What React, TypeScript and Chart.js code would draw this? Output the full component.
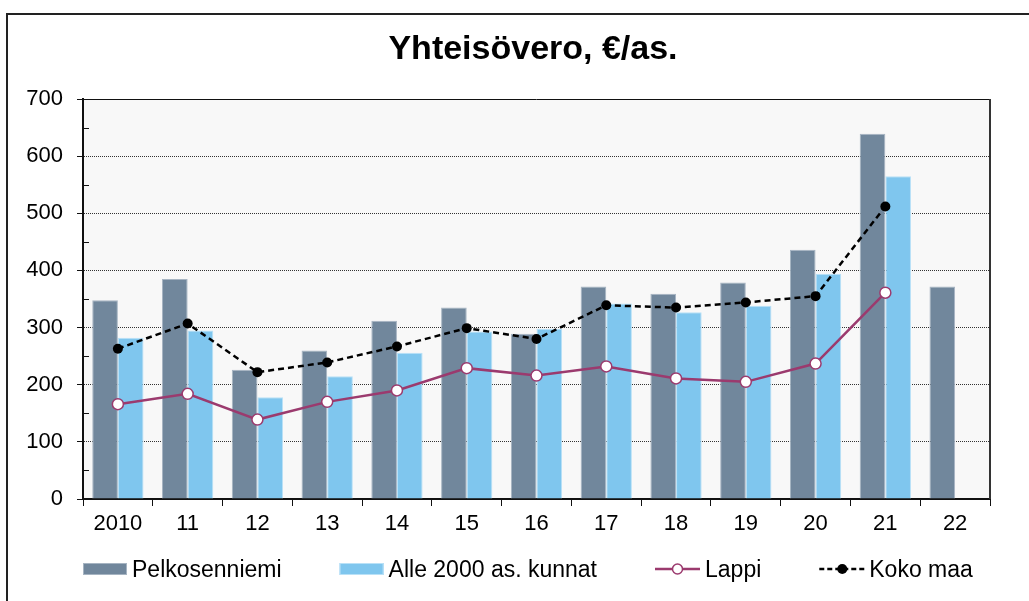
import React, { useEffect, useRef } from "react";
import { Chart, registerables } from "chart.js";

Chart.register(...registerables);

const title = "Yhteisövero, €/as.";
const categories = ["2010", "11", "12", "13", "14", "15", "16", "17", "18", "19", "20", "21", "22"];
const pelkosenniemi = [348, 385, 226, 260, 312, 335, 289, 372, 359, 379, 436, 639, 372];
const alle2000 = [282, 295, 178, 215, 256, 293, 298, 342, 327, 338, 394, 565, null];
const lappi = [166, 184, 139, 170, 190, 229, 216, 232, 211, 205, 237, 361, null];
const kokoMaa = [263, 307, 222, 239, 267, 299, 280, 339, 335, 344, 355, 512, null];
const seriesLabels = ["Pelkosenniemi", "Alle 2000 as. kunnat", "Lappi", "Koko maa"];
const yMin = 0;
const yMax = 700;
const yStep = 100;
const yMinorStep = 50;

const FONT = '"Liberation Sans", Arial, sans-serif';
const C_PELK = "#71879c";
const C_ALLE = "#7fc6ee";
const C_LAPPI = "#9b3a6e";
const C_KOKO = "#000000";

const bgPlugin = {
  id: "plotBg",
  beforeDraw(chart: any) {
    const { ctx, chartArea: a } = chart;
    ctx.save();
    ctx.fillStyle = "#f8f8f8";
    ctx.fillRect(a.left, a.top, a.right - a.left, a.bottom - a.top);
    ctx.restore();
  },
};

const framePlugin = {
  id: "frame",
  afterDraw(chart: any) {
    const { ctx, chartArea: a } = chart;
    const y = chart.scales.y;
    ctx.save();
    // top line
    ctx.strokeStyle = "#111";
    ctx.lineWidth = 1;
    ctx.beginPath();
    ctx.moveTo(a.left, Math.round(a.top) + 0.5);
    ctx.lineTo(a.right, Math.round(a.top) + 0.5);
    ctx.stroke();
    // right line
    ctx.strokeStyle = "#333";
    ctx.lineWidth = 2;
    ctx.beginPath();
    ctx.moveTo(a.right, a.top);
    ctx.lineTo(a.right, a.bottom);
    ctx.stroke();
    // minor ticks inside
    ctx.strokeStyle = "#111";
    ctx.lineWidth = 1;
    for (let v = yMin + yMinorStep; v < yMax; v += yStep) {
      const py = Math.round(y.getPixelForValue(v)) + 0.5;
      ctx.beginPath();
      ctx.moveTo(a.left, py);
      ctx.lineTo(a.left + 6, py);
      ctx.stroke();
    }
    // title
    ctx.fillStyle = "#000";
    ctx.font = `bold 34px ${FONT}`;
    ctx.textAlign = "center";
    ctx.textBaseline = "alphabetic";
    ctx.fillText(title, 533, 59);

    // legend
    const ly = 569;
    const baseline = 577;
    ctx.font = `23px ${FONT}`;
    ctx.textAlign = "left";
    let x = 83;
    const gap = 58;
    const barItems = [
      { label: seriesLabels[0], color: C_PELK, edge: "#a6b4c2" },
      { label: seriesLabels[1], color: C_ALLE, edge: "#b9e1f7" },
    ];
    for (const it of barItems) {
      ctx.fillStyle = it.color;
      ctx.fillRect(x, ly - 6, 44, 12);
      ctx.strokeStyle = it.edge;
      ctx.lineWidth = 1;
      ctx.strokeRect(x + 0.5, ly - 5.5, 43, 11);
      ctx.fillStyle = "#000";
      ctx.fillText(it.label, x + 49, baseline);
      x += 49 + ctx.measureText(it.label).width + gap;
    }
    // Lappi
    ctx.strokeStyle = C_LAPPI;
    ctx.lineWidth = 2.5;
    ctx.beginPath();
    ctx.moveTo(x, ly);
    ctx.lineTo(x + 45, ly);
    ctx.stroke();
    ctx.beginPath();
    ctx.arc(x + 22.5, ly, 5, 0, Math.PI * 2);
    ctx.fillStyle = "#fff";
    ctx.fill();
    ctx.lineWidth = 1.5;
    ctx.stroke();
    ctx.fillStyle = "#000";
    ctx.fillText(seriesLabels[2], x + 50, baseline);
    x += 50 + ctx.measureText(seriesLabels[2]).width + gap;
    // Koko maa
    ctx.strokeStyle = C_KOKO;
    ctx.lineWidth = 2.5;
    ctx.setLineDash([5, 3]);
    ctx.beginPath();
    ctx.moveTo(x, ly);
    ctx.lineTo(x + 46, ly);
    ctx.stroke();
    ctx.setLineDash([]);
    ctx.beginPath();
    ctx.arc(x + 23, ly, 5, 0, Math.PI * 2);
    ctx.fillStyle = C_KOKO;
    ctx.fill();
    ctx.fillStyle = "#000";
    ctx.fillText(seriesLabels[3], x + 50, baseline);
    ctx.restore();
  },
};

export default function App() {
  const ref = useRef<HTMLCanvasElement | null>(null);

  useEffect(() => {
    if (!ref.current) return;
    Chart.defaults.font.family = FONT;
    const chart = new Chart(ref.current, {
      type: "bar",
      data: {
        labels: categories,
        datasets: [
          {
            type: "line",
            label: seriesLabels[2],
            data: lappi,
            borderColor: C_LAPPI,
            borderWidth: 2.5,
            pointRadius: 5.5,
            pointBackgroundColor: "#fff",
            pointBorderColor: C_LAPPI,
            pointBorderWidth: 1.5,
            tension: 0,
            order: 0,
          } as any,
          {
            type: "line",
            label: seriesLabels[3],
            data: kokoMaa,
            borderColor: C_KOKO,
            borderWidth: 2.5,
            borderDash: [6, 4],
            pointRadius: 5,
            pointBackgroundColor: C_KOKO,
            pointBorderColor: C_KOKO,
            pointBorderWidth: 0,
            tension: 0,
            order: 1,
          } as any,
          {
            type: "bar",
            label: seriesLabels[0],
            data: pelkosenniemi,
            backgroundColor: C_PELK,
            borderColor: "#a6b4c2",
            borderWidth: 1,
            borderSkipped: "bottom",
            categoryPercentage: 0.735,
            barPercentage: 1,
            order: 2,
          } as any,
          {
            type: "bar",
            label: seriesLabels[1],
            data: alle2000,
            backgroundColor: C_ALLE,
            borderColor: "#b9e1f7",
            borderWidth: 1,
            borderSkipped: "bottom",
            categoryPercentage: 0.735,
            barPercentage: 1,
            order: 3,
          } as any,
        ],
      },
      options: {
        responsive: false,
        animation: false,
        devicePixelRatio: 1,
        layout: { padding: { top: 99, left: 0, right: 39, bottom: 0 } },
        plugins: {
          legend: { display: false },
          title: { display: false },
          tooltip: { enabled: false },
        },
        scales: {
          x: {
            offset: true,
            grid: {
              display: true,
              offset: true,
              drawOnChartArea: false,
              drawTicks: true,
              tickLength: 7,
              tickColor: "#111",
              tickWidth: 1,
            },
            border: { display: true, color: "#111", width: 2 },
            ticks: {
              color: "#000",
              font: { size: 22, family: FONT },
              padding: 5,
              maxRotation: 0,
              autoSkip: false,
            },
            afterFit(scale: any) {
              scale.height = 102;
            },
          },
          y: {
            min: yMin,
            max: yMax,
            grid: {
              color: (ctx: any) =>
                ctx.tick && (ctx.tick.value === yMin || ctx.tick.value === yMax) ? "rgba(0,0,0,0)" : "#333",
              lineWidth: 1,
              drawTicks: true,
              tickLength: 6,
              tickColor: "#111",
              tickWidth: 1,
            },
            border: { display: true, color: "#111", width: 2, dash: [1, 1] },
            ticks: {
              stepSize: yStep,
              color: "#000",
              font: { size: 22, family: FONT },
              padding: 14,
            },
            afterFit(scale: any) {
              scale.width = 83;
            },
          },
        },
      },
      plugins: [bgPlugin, framePlugin],
    });
    return () => chart.destroy();
  }, []);

  return (
    <div
      style={{
        position: "fixed",
        left: 0,
        top: 0,
        width: 1029,
        height: 601,
        overflow: "hidden",
        background: "#fff",
      }}
    >
      <div
        style={{
          position: "absolute",
          left: 6,
          top: 13,
          width: 1200,
          height: 800,
          border: "2px solid #222",
          boxSizing: "border-box",
        }}
      />
      <canvas
        ref={ref}
        width={1029}
        height={601}
        style={{ position: "absolute", left: 0, top: 0, width: 1029, height: 601 }}
      />
    </div>
  );
}
